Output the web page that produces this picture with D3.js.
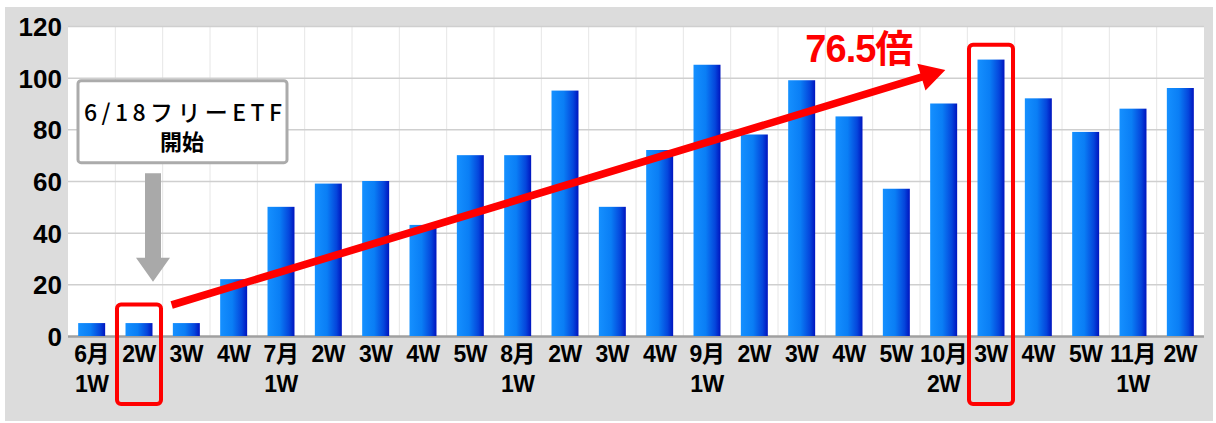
<!DOCTYPE html>
<html>
<head>
<meta charset="utf-8">
<script src="https://cdn.jsdelivr.net/npm/d3@7"></script>
<style>
  html, body { margin: 0; padding: 0; background: #fff; }
  svg { display: block; }
</style>
</head>
<body>
<div id="chart"></div>
<script>
// weekly counts
const labelTop = ['6月', '2W', '3W', '4W', '7月', '2W', '3W', '4W', '5W', '8月', '2W', '3W',
    '4W', '9月', '2W', '3W', '4W', '5W', '10月', '3W', '4W', '5W', '11月', '2W'];
const labelBottom = ['1W', '', '', '', '1W', '', '', '', '', '1W', '', '',
    '', '1W', '', '', '', '', '2W', '', '', '', '1W', ''];
const values = [5, 5, 5, 22, 50, 59, 60, 43, 70, 70, 95, 50,
    72, 105, 78, 99, 85, 57, 90, 107, 92, 79, 88, 96];
const yTicks = [0, 20, 40, 60, 80, 100, 120];
const startIdx = 1;   // 2W boxed: start of the free ETF
const peakIdx = 19;   // 10月 3W boxed
const ratioText = '76.5倍';
const noteLines = ['6/18フリーETF', '開始'];

const W = 1216, H = 423;
const margin = { top: 26, right: 12, bottom: 87, left: 68 };
const width = W - margin.left - margin.right;
const height = H - margin.top - margin.bottom;

const svg = d3.select('#chart').append('svg')
    .attr('width', W)
    .attr('height', H);

// gray frame
svg.append('rect')
    .attr('x', 5).attr('y', 7)
    .attr('width', W - 8).attr('height', H - 9)
    .attr('fill', '#dcdcdc');

const g = svg.append('g')
    .attr('transform', 'translate(' + margin.left + ',' + margin.top + ')');

g.append('rect')
    .attr('width', width).attr('height', height)
    .attr('fill', '#fff');

const idx = d3.range(values.length);
const x = d3.scaleBand()
    .domain(idx)
    .range([0, width])
    .paddingInner(0.43)
    .paddingOuter(0.215);
const y = d3.scaleLinear().domain([0, 120]).range([height, 0]);
const step = x.step();

const defs = svg.append('defs');
const grad = defs.append('linearGradient')
    .attr('id', 'barGrad')
    .attr('x1', '0%').attr('x2', '100%').attr('y1', '0%').attr('y2', '0%');
grad.append('stop').attr('offset', '0%').attr('stop-color', '#1590ff');
grad.append('stop').attr('offset', '45%').attr('stop-color', '#0a7ef5');
grad.append('stop').attr('offset', '80%').attr('stop-color', '#0546dc');
grad.append('stop').attr('offset', '100%').attr('stop-color', '#0014bf');

// vertical grid at band boundaries
g.append('g')
    .selectAll('line')
    .data(d3.range(1, values.length))
    .enter()
    .append('line')
    .attr('x1', d => d * step).attr('x2', d => d * step)
    .attr('y1', 0).attr('y2', height)
    .attr('stroke', '#e6e6e6')
    .attr('stroke-width', 1);

// horizontal grid + y labels
g.append('g')
    .call(d3.axisLeft(y).tickValues(yTicks).tickSize(-width).tickPadding(6))
    .call(a => a.select('.domain').remove())
    .call(a => a.selectAll('line')
        .attr('stroke', d => d === 0 ? '#a0a0a0' : '#cfcfcf')
        .attr('stroke-width', d => d === 0 ? 2.5 : 1.5))
    .call(a => a.selectAll('text')
        .attr('fill', '#000')
        .style('font-family', '"Liberation Sans", Arial, sans-serif')
        .style('font-weight', 'bold')
        .style('font-size', '26px')
        .attr('dy', '0.36em'));

// bars
g.append('g')
    .selectAll('rect')
    .data(values)
    .enter()
    .append('rect')
    .attr('x', (d, i) => x(i))
    .attr('y', d => y(d))
    .attr('width', x.bandwidth())
    .attr('height', d => y(0) - y(d))
    .attr('fill', 'url(#barGrad)');

// x labels, two lines
const xl = g.append('g')
    .selectAll('text')
    .data(idx)
    .enter()
    .append('text')
    .attr('x', i => x(i) + x.bandwidth() / 2)
    .attr('text-anchor', 'middle')
    .style('font-family', '"Liberation Sans", Arial, "Noto Sans CJK JP", sans-serif')
    .style('font-weight', 'bold')
    .style('font-size', '23px')
    .style('letter-spacing', '-0.5px')
    .attr('fill', '#000');
xl.append('tspan').attr('x', i => x(i) + x.bandwidth() / 2).attr('y', height + 26).text(i => labelTop[i]);
xl.append('tspan').attr('x', i => x(i) + x.bandwidth() / 2).attr('y', height + 56).text(i => labelBottom[i]);

// annotation box
const bx = x(startIdx) + x.bandwidth() / 2;
const box = g.append('g');
box.append('rect')
    .attr('x', bx - 61).attr('y', y(100) + 3)
    .attr('width', 209).attr('height', 82)
    .attr('rx', 3)
    .attr('fill', '#fff')
    .attr('stroke', '#ababab')
    .attr('stroke-width', 3);
box.append('text')
    .attr('x', bx - 55).attr('y', y(100) + 43)
    .attr('textLength', 198)
    .attr('lengthAdjust', 'spacing')
    .style('font-family', '"Noto Sans CJK JP", sans-serif')
    .style('font-weight', 500)
    .style('font-size', '23px')
    .attr('fill', '#000')
    .text(noteLines[0]);
box.append('text')
    .attr('x', bx + 43).attr('y', y(100) + 72)
    .attr('text-anchor', 'middle')
    .style('font-family', '"Noto Sans CJK JP", sans-serif')
    .style('font-weight', 'bold')
    .style('font-size', '22px')
    .attr('fill', '#000')
    .text(noteLines[1]);

// gray down arrow
const ax = bx + 14;
const tipY = y(21);
g.append('path')
    .attr('d', d3.line()([
        [ax - 8, y(63)], [ax + 8, y(63)], [ax + 8, tipY - 24], [ax + 17, tipY - 24],
        [ax, tipY], [ax - 17, tipY - 24], [ax - 8, tipY - 24]
    ]) + 'Z')
    .attr('fill', '#a9a9a9');

// red boxes
[startIdx, peakIdx].forEach((k, j) => {
    const cx = x(k) + x.bandwidth() / 2;
    const top = j === 0 ? y(13) + 2 : y(113.5) + 2;
    g.append('rect')
        .attr('x', cx - 22).attr('width', 44)
        .attr('y', top).attr('height', height + 68 - top)
        .attr('rx', 4)
        .attr('fill', 'none')
        .attr('stroke', '#ff0000')
        .attr('stroke-width', 4);
});

// red trend arrow
const p0 = [(startIdx + 1) * step + 9, y(12)];
const p1 = [peakIdx * step - 22, y(103)];
const dx = p1[0] - p0[0], dy = p1[1] - p0[1];
const len = Math.hypot(dx, dy);
const ux = dx / len, uy = dy / len;
const nx = -uy, ny = ux;
const headL = 25, headW = 14, lw = 3.8;
const bxh = p1[0] - ux * headL, byh = p1[1] - uy * headL;
g.append('path')
    .attr('d', d3.line()([
        [p0[0] + nx * lw, p0[1] + ny * lw],
        [bxh + nx * lw, byh + ny * lw],
        [bxh + nx * headW, byh + ny * headW],
        p1,
        [bxh - nx * headW, byh - ny * headW],
        [bxh - nx * lw, byh - ny * lw],
        [p0[0] - nx * lw, p0[1] - ny * lw]
    ]) + 'Z')
    .attr('fill', '#ff0000');

g.append('text')
    .attr('x', p1[0] - 33).attr('y', p1[1] - 8)
    .attr('text-anchor', 'end')
    .style('font-family', '"Liberation Sans", Arial, "Noto Sans CJK JP", sans-serif')
    .style('font-weight', 'bold')
    .style('font-size', '38px')
    .style('letter-spacing', '-1px')
    .attr('fill', '#ff0000')
    .text(ratioText);
</script>
</body>
</html>
